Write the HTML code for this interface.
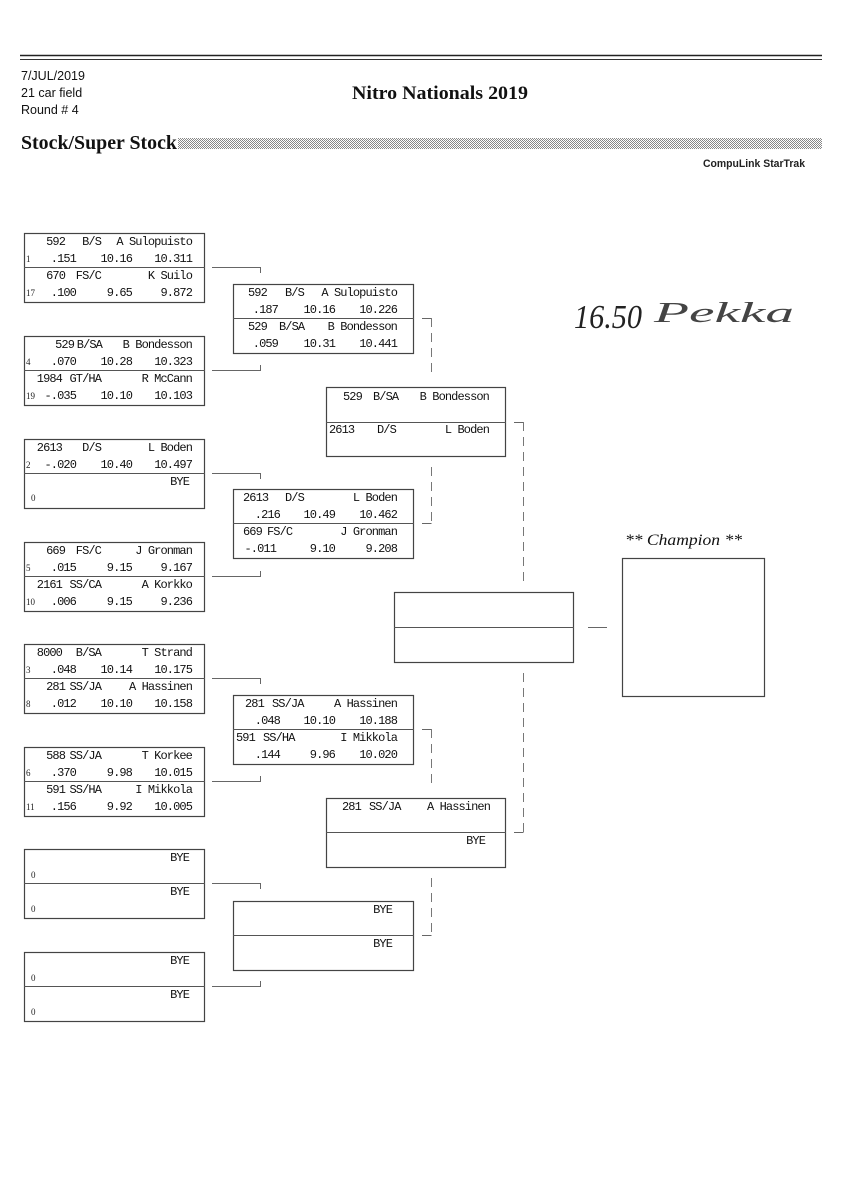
<!DOCTYPE html>
<html><head><meta charset="utf-8"><style>
html,body{margin:0;padding:0;background:#fff}
svg{display:block}
.m{font-family:"Liberation Mono","DejaVu Sans Mono",monospace;font-size:12px;letter-spacing:-0.9px;fill:#111}
.e{text-anchor:end}
.s{font-family:"Liberation Serif",serif;font-size:9px;fill:#222}
.b{fill:none;stroke:#444;stroke-width:1.2}
.d{stroke:#555;stroke-width:1.1}
.c{stroke:#666;stroke-width:1;fill:none}
.k{stroke:#777;stroke-width:1;fill:none;stroke-dasharray:9 6}
.h{font-family:"Liberation Sans Narrow","Liberation Sans",sans-serif;font-size:12.5px;fill:#111}
</style></head><body>
<svg width="848" height="1200" viewBox="0 0 848 1200" xmlns="http://www.w3.org/2000/svg">
<defs>
<pattern id="dots" width="2" height="2" patternUnits="userSpaceOnUse">
<rect width="2" height="2" fill="#fff"/><rect width="1" height="1" fill="#888"/><rect x="1" y="1" width="1" height="1" fill="#888"/>
</pattern>
</defs>

<!-- Header -->
<line x1="20" y1="55.5" x2="822" y2="55.5" stroke="#222" stroke-width="1.6"/>
<line x1="20" y1="59.5" x2="822" y2="59.5" stroke="#333" stroke-width="1"/>
<text class="h" x="21" y="80">7/JUL/2019</text>
<text class="h" x="21" y="97">21 car field</text>
<text class="h" x="21" y="114">Round # 4</text>
<text x="352" y="99" textLength="176" lengthAdjust="spacingAndGlyphs" style="font-family:'Liberation Serif',serif;font-weight:bold;font-size:19px;fill:#111">Nitro Nationals 2019</text>
<text x="21" y="149" textLength="156" lengthAdjust="spacingAndGlyphs" style="font-family:'Liberation Serif',serif;font-weight:bold;font-size:20px;fill:#111">Stock/Super Stock</text>
<rect x="178" y="138" width="644" height="11" fill="url(#dots)"/>
<text x="703" y="167" textLength="102" lengthAdjust="spacingAndGlyphs" style="font-family:'Liberation Sans Narrow','Liberation Sans',sans-serif;font-weight:bold;font-size:11px;fill:#222">CompuLink StarTrak</text>

<!-- Column 1 boxes -->
<g>
<rect class="b" x="24.5" y="233.5" width="180" height="69"/><line class="d" x1="24" y1="267.5" x2="205" y2="267.5"/>
<text class="m e" x="65" y="245">592</text><text class="m e" x="101" y="245">B/S</text><text class="m e" x="192" y="245">A Sulopuisto</text>
<text class="s" x="26" y="262">1</text><text class="m e" x="76" y="262">.151</text><text class="m e" x="132" y="262">10.16</text><text class="m e" x="192" y="262">10.311</text>
<text class="m e" x="65" y="279">670</text><text class="m e" x="101" y="279">FS/C</text><text class="m e" x="192" y="279">K Suilo</text>
<text class="s" x="26" y="296">17</text><text class="m e" x="76" y="296">.100</text><text class="m e" x="132" y="296">9.65</text><text class="m e" x="192" y="296">9.872</text>

<rect class="b" x="24.5" y="336.5" width="180" height="69"/><line class="d" x1="24" y1="370.5" x2="205" y2="370.5"/>
<text class="m e" x="74" y="348">529</text><text class="m e" x="102" y="348">B/SA</text><text class="m e" x="192" y="348">B Bondesson</text>
<text class="s" x="26" y="365">4</text><text class="m e" x="76" y="365">.070</text><text class="m e" x="132" y="365">10.28</text><text class="m e" x="192" y="365">10.323</text>
<text class="m e" x="62" y="382">1984</text><text class="m e" x="101" y="382">GT/HA</text><text class="m e" x="192" y="382">R McCann</text>
<text class="s" x="26" y="399">19</text><text class="m e" x="76" y="399">-.035</text><text class="m e" x="132" y="399">10.10</text><text class="m e" x="192" y="399">10.103</text>

<rect class="b" x="24.5" y="439.5" width="180" height="69"/><line class="d" x1="24" y1="473.5" x2="205" y2="473.5"/>
<text class="m e" x="62" y="451">2613</text><text class="m e" x="101" y="451">D/S</text><text class="m e" x="192" y="451">L Boden</text>
<text class="s" x="26" y="468">2</text><text class="m e" x="76" y="468">-.020</text><text class="m e" x="132" y="468">10.40</text><text class="m e" x="192" y="468">10.497</text>
<text class="m e" x="189" y="485">BYE</text>
<text class="s" x="31" y="501">0</text>

<rect class="b" x="24.5" y="542.5" width="180" height="69"/><line class="d" x1="24" y1="576.5" x2="205" y2="576.5"/>
<text class="m e" x="65" y="554">669</text><text class="m e" x="101" y="554">FS/C</text><text class="m e" x="192" y="554">J Gronman</text>
<text class="s" x="26" y="571">5</text><text class="m e" x="76" y="571">.015</text><text class="m e" x="132" y="571">9.15</text><text class="m e" x="192" y="571">9.167</text>
<text class="m e" x="62" y="588">2161</text><text class="m e" x="101" y="588">SS/CA</text><text class="m e" x="192" y="588">A Korkko</text>
<text class="s" x="26" y="605">10</text><text class="m e" x="76" y="605">.006</text><text class="m e" x="132" y="605">9.15</text><text class="m e" x="192" y="605">9.236</text>

<rect class="b" x="24.5" y="644.5" width="180" height="69"/><line class="d" x1="24" y1="678.5" x2="205" y2="678.5"/>
<text class="m e" x="62" y="656">8000</text><text class="m e" x="101" y="656">B/SA</text><text class="m e" x="192" y="656">T Strand</text>
<text class="s" x="26" y="673">3</text><text class="m e" x="76" y="673">.048</text><text class="m e" x="132" y="673">10.14</text><text class="m e" x="192" y="673">10.175</text>
<text class="m e" x="65" y="690">281</text><text class="m e" x="101" y="690">SS/JA</text><text class="m e" x="192" y="690">A Hassinen</text>
<text class="s" x="26" y="707">8</text><text class="m e" x="76" y="707">.012</text><text class="m e" x="132" y="707">10.10</text><text class="m e" x="192" y="707">10.158</text>

<rect class="b" x="24.5" y="747.5" width="180" height="69"/><line class="d" x1="24" y1="781.5" x2="205" y2="781.5"/>
<text class="m e" x="65" y="759">588</text><text class="m e" x="101" y="759">SS/JA</text><text class="m e" x="192" y="759">T Korkee</text>
<text class="s" x="26" y="776">6</text><text class="m e" x="76" y="776">.370</text><text class="m e" x="132" y="776">9.98</text><text class="m e" x="192" y="776">10.015</text>
<text class="m e" x="65" y="793">591</text><text class="m e" x="101" y="793">SS/HA</text><text class="m e" x="192" y="793">I Mikkola</text>
<text class="s" x="26" y="810">11</text><text class="m e" x="76" y="810">.156</text><text class="m e" x="132" y="810">9.92</text><text class="m e" x="192" y="810">10.005</text>

<rect class="b" x="24.5" y="849.5" width="180" height="69"/><line class="d" x1="24" y1="883.5" x2="205" y2="883.5"/>
<text class="m e" x="189" y="861">BYE</text><text class="s" x="31" y="878">0</text>
<text class="m e" x="189" y="895">BYE</text><text class="s" x="31" y="912">0</text>

<rect class="b" x="24.5" y="952.5" width="180" height="69"/><line class="d" x1="24" y1="986.5" x2="205" y2="986.5"/>
<text class="m e" x="189" y="964">BYE</text><text class="s" x="31" y="981">0</text>
<text class="m e" x="189" y="998">BYE</text><text class="s" x="31" y="1015">0</text>
</g>

<!-- Column 1 -> 2 connectors -->
<g class="c">
<path d="M212 267.5 H260.5 V273"/><path d="M212 370.5 H260.5 V365"/>
<path d="M212 473.5 H260.5 V479"/><path d="M212 576.5 H260.5 V571"/>
<path d="M212 678.5 H260.5 V684"/><path d="M212 781.5 H260.5 V776"/>
<path d="M212 883.5 H260.5 V889"/><path d="M212 986.5 H260.5 V981"/>
</g>

<!-- Column 2 boxes -->
<g>
<rect class="b" x="233.5" y="284.5" width="180" height="69"/><line class="d" x1="233" y1="318.5" x2="414" y2="318.5"/>
<text class="m" x="248" y="296">592</text><text class="m" x="285" y="296">B/S</text><text class="m e" x="397" y="296">A Sulopuisto</text>
<text class="m e" x="278" y="313">.187</text><text class="m e" x="335" y="313">10.16</text><text class="m e" x="397" y="313">10.226</text>
<text class="m" x="248" y="330">529</text><text class="m" x="279" y="330">B/SA</text><text class="m e" x="397" y="330">B Bondesson</text>
<text class="m e" x="278" y="347">.059</text><text class="m e" x="335" y="347">10.31</text><text class="m e" x="397" y="347">10.441</text>

<rect class="b" x="233.5" y="489.5" width="180" height="69"/><line class="d" x1="233" y1="523.5" x2="414" y2="523.5"/>
<text class="m" x="243" y="501">2613</text><text class="m" x="285" y="501">D/S</text><text class="m e" x="397" y="501">L Boden</text>
<text class="m e" x="280" y="518">.216</text><text class="m e" x="335" y="518">10.49</text><text class="m e" x="397" y="518">10.462</text>
<text class="m" x="243" y="535">669</text><text class="m" x="267" y="535">FS/C</text><text class="m e" x="397" y="535">J Gronman</text>
<text class="m e" x="276" y="552">-.011</text><text class="m e" x="335" y="552">9.10</text><text class="m e" x="397" y="552">9.208</text>

<rect class="b" x="233.5" y="695.5" width="180" height="69"/><line class="d" x1="233" y1="729.5" x2="414" y2="729.5"/>
<text class="m" x="245" y="707">281</text><text class="m" x="272" y="707">SS/JA</text><text class="m e" x="397" y="707">A Hassinen</text>
<text class="m e" x="280" y="724">.048</text><text class="m e" x="335" y="724">10.10</text><text class="m e" x="397" y="724">10.188</text>
<text class="m" x="236" y="741">591</text><text class="m" x="263" y="741">SS/HA</text><text class="m e" x="397" y="741">I Mikkola</text>
<text class="m e" x="280" y="758">.144</text><text class="m e" x="335" y="758">9.96</text><text class="m e" x="397" y="758">10.020</text>

<rect class="b" x="233.5" y="901.5" width="180" height="69"/><line class="d" x1="233" y1="935.5" x2="414" y2="935.5"/>
<text class="m e" x="392" y="913">BYE</text>
<text class="m e" x="392" y="947">BYE</text>
</g>

<!-- Column 2 -> 3 connectors (dashed) -->
<g>
<line class="c" x1="422" y1="318.5" x2="431.5" y2="318.5"/><line class="k" x1="431.5" y1="318" x2="431.5" y2="377"/>
<line class="k" x1="431.5" y1="467" x2="431.5" y2="524"/><line class="c" x1="422" y1="523.5" x2="431.5" y2="523.5"/>
<line class="c" x1="422" y1="729.5" x2="431.5" y2="729.5"/><line class="k" x1="431.5" y1="729" x2="431.5" y2="788"/>
<line class="k" x1="431.5" y1="878" x2="431.5" y2="935"/><line class="c" x1="422" y1="935.5" x2="431.5" y2="935.5"/>
</g>

<!-- Column 3 boxes -->
<g>
<rect class="b" x="326.5" y="387.5" width="179" height="69"/><line class="d" x1="326" y1="422.5" x2="506" y2="422.5"/>
<text class="m" x="343" y="400">529</text><text class="m" x="373" y="400">B/SA</text><text class="m e" x="489" y="400">B Bondesson</text>
<text class="m" x="329" y="433">2613</text><text class="m" x="377" y="433">D/S</text><text class="m e" x="489" y="433">L Boden</text>

<rect class="b" x="326.5" y="798.5" width="179" height="69"/><line class="d" x1="326" y1="832.5" x2="506" y2="832.5"/>
<text class="m" x="342" y="810">281</text><text class="m" x="369" y="810">SS/JA</text><text class="m e" x="490" y="810">A Hassinen</text>
<text class="m e" x="485" y="844">BYE</text>
</g>

<!-- Column 3 -> final connectors -->
<g>
<line class="c" x1="514" y1="422.5" x2="523.5" y2="422.5"/><line class="k" x1="523.5" y1="422" x2="523.5" y2="583"/>
<line class="k" x1="523.5" y1="673" x2="523.5" y2="832"/><line class="c" x1="514" y1="832.5" x2="523.5" y2="832.5"/>
</g>

<!-- Final box -->
<rect class="b" x="394.5" y="592.5" width="179" height="70"/><line class="d" x1="394" y1="627.5" x2="574" y2="627.5"/>
<line class="c" x1="588" y1="627.5" x2="607" y2="627.5"/>

<!-- Champion -->
<text x="625" y="545" textLength="117" lengthAdjust="spacingAndGlyphs" style="font-family:'Liberation Serif',serif;font-style:italic;font-size:16px;fill:#111">** Champion **</text>
<rect class="b" x="622.5" y="558.5" width="142" height="138"/>

<!-- Handwriting -->
<text x="574" y="328" textLength="68" lengthAdjust="spacingAndGlyphs" style="font-family:'Liberation Serif',serif;font-style:italic;font-size:34px;fill:#222">16.50</text>
<text x="654" y="322" textLength="140" lengthAdjust="spacingAndGlyphs" style="font-family:'Liberation Serif',serif;font-style:italic;font-size:28px;fill:#444">Pekka</text>
</svg>
</body></html>
